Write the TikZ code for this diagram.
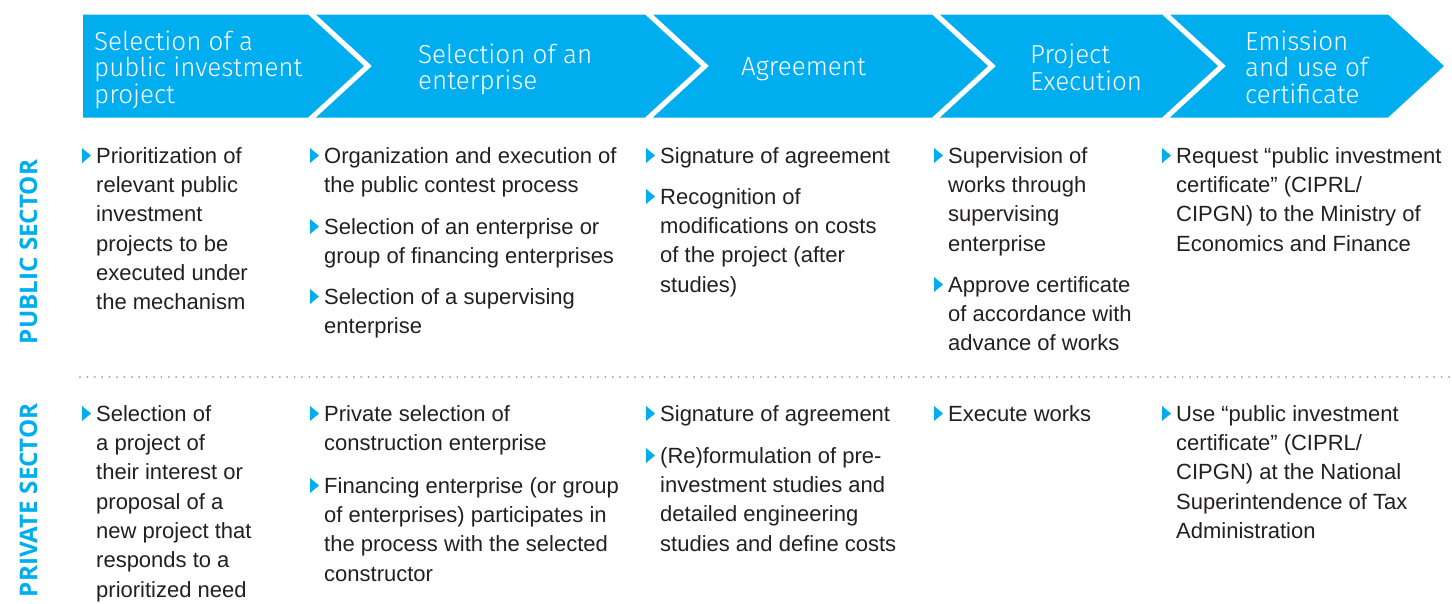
\documentclass[tikz,border=0pt]{standalone}
\usepackage{fontspec}
\setmainfont{Liberation Sans}
\newfontfamily\headfont{Fira Sans Light}
\newfontfamily\sidefont{Open Sans}
\usepackage{xcolor}
\usepackage{tikz}
\usetikzlibrary{positioning}
\definecolor{cyanpro}{HTML}{00AEEF}
\definecolor{textgray}{HTML}{231F20}
\definecolor{dotgray}{HTML}{9D9D9C}
\tikzset{
  stage/.style={fill=cyanpro},
  stagetext/.style={anchor=west,align=left,inner sep=0,text=white,
    font=\headfont\fontsize{26}{26.5}\selectfont},
  item/.style={anchor=north west,align=left,inner sep=0,text=textgray,
    font=\fontsize{22}{29.3}\selectfont},
  bullet/.style={fill=cyanpro},
  sector/.style={rotate=90,inner sep=0,text=cyanpro,
    font=\sidefont\bfseries\fontsize{24.2}{25}\selectfont},
  separator/.style={draw=dotgray,line width=2pt,line cap=round,
    dash pattern=on 0pt off 7.4pt}
}
% #2 is the baseline of the first line
\newcommand{\bitem}[3]{%
  \node[item] (#1) at ($(#2)+(0,-18)$) {\rule{0pt}{18pt}#3};
  \fill[bullet] ([xshift=-14pt,yshift=-18pt]#1.north west) -- ++(0,-15) -- ++(9,7.5) -- cycle;
}
\usetikzlibrary{calc}

\begin{document}
\begin{tikzpicture}[x=1pt,y=-1pt]
  \useasboundingbox (0,0) rectangle (1452,603);
  % process stages
  \foreach \l/\r/\n in {83/308/0,316/645/56,653/932/56,940/1162/56,1170/1388/56}
    \fill[stage] (\l,14.5) -- (\r,14.5) -- (\r+56,66) -- (\r,117.5) -- (\l,117.5) -- (\l+\n,66) -- cycle;
  \node[stagetext] (st1) at (94,69.5) {Selection of a\\public investment\\project};
  \node[stagetext] (st2) at (418,69.5) {Selection of an\\enterprise};
  \node[stagetext] (st3) at (741,69.5) {Agreement};
  \node[stagetext] (st4) at (1030,67.5) {Project\\Execution};
  \node[stagetext] (st5) at (1245,67) {Emission\\and use of\\certificate};
  % sectors
  \node[sector] (pub) at (28.5,252) {PUBLIC SECTOR};
  \node[sector,anchor=east] (prv) at (28.5,403) {PRIVATE SECTOR};
  \coordinate (sepL) at (80,377);
  \coordinate (sepR) at (1452,377);
  \draw[separator] (sepL) -- (sepR);
  % public sector
  \bitem{pub1}{96,163}{Prioritization of\\relevant public\\investment\\projects to be\\executed under\\the mechanism}
  \bitem{pub2a}{324,163}{Organization and execution of\\the public contest process}
  \bitem{pub2b}{324,234}{Selection of an enterprise or\\group of financing enterprises}
  \bitem{pub2c}{324,304}{Selection of a supervising\\enterprise}
  \bitem{pub3a}{660,163}{Signature of agreement}
  \bitem{pub3b}{660,204}{Recognition of\\modifications on costs\\of the project (after\\studies)}
  \bitem{pub4a}{948,163}{Supervision of\\works through\\supervising\\enterprise}
  \bitem{pub4b}{948,292}{Approve certificate\\of accordance with\\advance of works}
  \bitem{pub5}{1176,163}{Request “public investment\\certificate” (CIPRL/\\CIPGN) to the Ministry of\\Economics and Finance}
  % private sector
  \bitem{prv1}{96,421}{Selection of\\a project of\\their interest or\\proposal of a\\new project that\\responds to a\\prioritized need}
  \bitem{prv2a}{324,421}{Private selection of\\construction enterprise}
  \bitem{prv2b}{324,493}{Financing enterprise (or group\\of enterprises) participates in\\the process with the selected\\constructor}
  \bitem{prv3a}{660,421}{Signature of agreement}
  \bitem{prv3b}{660,463}{(Re)formulation of pre-\\investment studies and\\detailed engineering\\studies and define costs}
  \bitem{prv4}{948,421}{Execute works}
  \bitem{prv5}{1176,421}{Use “public investment\\certificate” (CIPRL/\\CIPGN) at the National\\Superintendence of Tax\\Administration}
\end{tikzpicture}
\end{document}
